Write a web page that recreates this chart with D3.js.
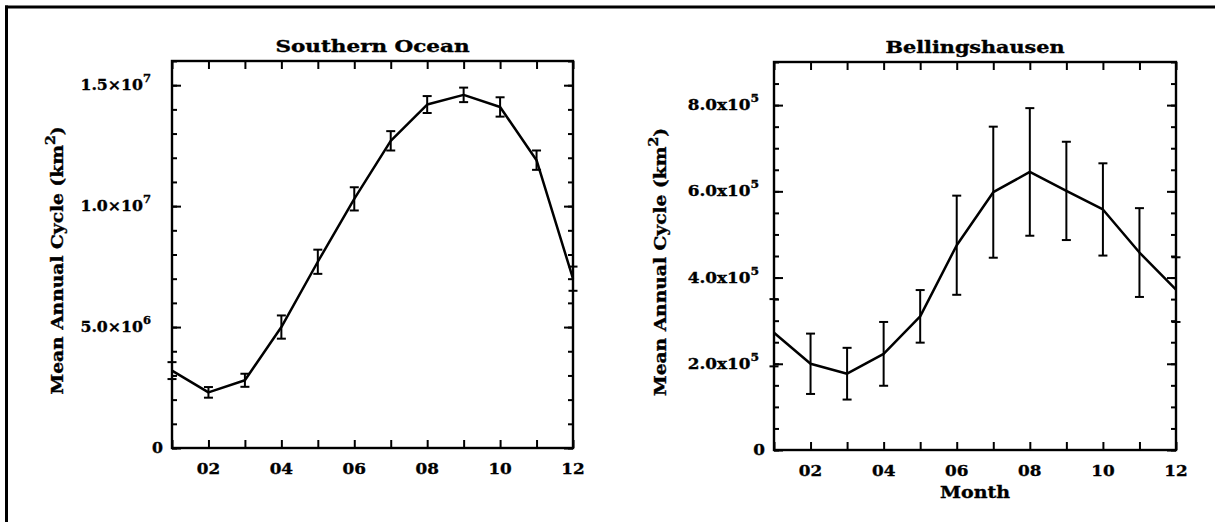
<!DOCTYPE html>
<html>
<head>
<meta charset="utf-8">
<script src="https://cdn.jsdelivr.net/npm/d3@7"></script>
<style>
body { margin: 0; background: #fff; }
svg text { font-family: "DejaVu Serif", serif; font-weight: bold; fill: #000; stroke: #000; stroke-width: 0.35px; }
</style>
</head>
<body>
<svg id="chart"></svg>
<script>
// x axis
var months = [1, 2, 3, 4, 5, 6, 7, 8, 9, 10, 11, 12];
var monthTicks = [2, 4, 6, 8, 10, 12];
var monthLabels = ["02", "04", "06", "08", "10", "12"];

// Southern Ocean (km^2)
var soValues = [3.2e6, 2.3e6, 2.8e6, 5.0e6, 7.7e6, 10.3e6, 12.7e6, 14.2e6, 14.6e6, 14.1e6, 11.9e6, 7.0e6];
var soErrors = [0.35e6, 0.22e6, 0.27e6, 0.48e6, 0.5e6, 0.48e6, 0.4e6, 0.35e6, 0.3e6, 0.4e6, 0.4e6, 0.5e6];
var soTickValues = [0, 5e6, 1e7, 1.5e7];
var soTickMant = ["0", "5.0", "1.0", "1.5"];
var soTickExp = ["", "6", "7", "7"];

// Bellingshausen (km^2)
var beValues = [2.72e5, 2.0e5, 1.77e5, 2.23e5, 3.1e5, 4.75e5, 5.98e5, 6.45e5, 6.01e5, 5.58e5, 4.58e5, 3.72e5];
var beErrors = [0.78e5, 0.7e5, 0.6e5, 0.74e5, 0.61e5, 1.15e5, 1.52e5, 1.48e5, 1.14e5, 1.07e5, 1.03e5, 0.75e5];
var beTickValues = [0, 2e5, 4e5, 6e5, 8e5];
var beTickMant = ["0", "2.0", "4.0", "6.0", "8.0"];
var beTickExp = ["", "5", "5", "5", "5"];

var svg = d3.select("#chart")
    .attr("width", 1215)
    .attr("height", 522);

// place a text node so that it spans [x0, x0 + w], glyphs stretched to fit
// anchor: 0 = start, 0.5 = middle, 1 = end of the stretched text
function place(sel, xa, anchor, w, f) {
    sel.each(function() {
        var l = this.getComputedTextLength();
        var width = w || l * f;
        d3.select(this)
            .attr("text-anchor", "start")
            .attr("x", xa - anchor * width)
            .attr("textLength", width)
            .attr("lengthAdjust", "spacingAndGlyphs");
    });
}

// outer frame (top and left only)
svg.append("line").attr("x1", 5).attr("x2", 1215).attr("y1", 7).attr("y2", 7)
    .style("stroke", "#000").style("stroke-width", 3);
svg.append("line").attr("x1", 6.5).attr("x2", 6.5).attr("y1", 5.5).attr("y2", 522)
    .style("stroke", "#000").style("stroke-width", 3);

function drawPanel(p) {
    var x = d3.scaleLinear().domain([1, 12]).range([p.left, p.right]);
    var y = d3.scaleLinear().domain([0, p.yMax]).range([p.bottom, p.top]);
    var g = svg.append("g");

    var minor = d3.range(0, p.yMax + p.minorStep / 2, p.minorStep);

    // ticks, pointing inward
    g.append("g").attr("transform", "translate(0," + p.bottom + ")")
        .call(d3.axisBottom(x).tickValues(months).tickSize(-8).tickFormat(""));
    g.append("g").attr("transform", "translate(0," + p.top + ")")
        .call(d3.axisTop(x).tickValues(months).tickSize(-8).tickFormat(""));
    g.append("g").attr("transform", "translate(" + p.left + ",0)")
        .call(d3.axisLeft(y).tickValues(minor).tickSize(-5).tickFormat(""));
    g.append("g").attr("transform", "translate(" + p.right + ",0)")
        .call(d3.axisRight(y).tickValues(minor).tickSize(-5).tickFormat(""));
    g.append("g").attr("transform", "translate(" + p.left + ",0)")
        .call(d3.axisLeft(y).tickValues(p.tickValues).tickSize(-9).tickFormat(""));
    g.append("g").attr("transform", "translate(" + p.right + ",0)")
        .call(d3.axisRight(y).tickValues(p.tickValues).tickSize(-9).tickFormat(""));
    g.selectAll(".domain").remove();
    g.selectAll(".tick line").style("stroke", "#000").style("stroke-width", 2);

    // plot box
    g.append("rect")
        .attr("x", p.left).attr("y", p.top)
        .attr("width", p.right - p.left).attr("height", p.bottom - p.top)
        .style("fill", "none").style("stroke", "#000").style("stroke-width", 2.4);

    // x tick labels
    monthTicks.forEach(function(m, i) {
        g.append("text")
            .attr("y", p.bottom + 26)
            .style("font-size", "15px")
            .text(monthLabels[i])
            .call(place, x(m), 0.5, 0, 1.12);
    });

    // y tick labels with exponents
    p.tickValues.forEach(function(v, i) {
        var t = g.append("text")
            .attr("y", y(v) + 5)
            .style("font-size", "15px");
        if (p.exp[i] === "") {
            t.text(p.mant[i]);
        } else {
            t.append("tspan").text(p.mant[i] + p.sep + "10");
            t.append("tspan").attr("dy", -8).style("font-size", "11px").text(p.exp[i]);
        }
        t.call(place, i === 0 ? p.zeroX : p.labelX, 1, 0, p.labelStretch);
    });

    // title
    g.append("text")
        .attr("y", p.top - 9)
        .style("font-size", "16px")
        .text(p.title)
        .call(place, (p.left + p.right) / 2, 0.5, p.titleWidth);

    // y axis title
    var yt = g.append("text")
        .attr("transform", "translate(" + p.yTitleX + "," + ((p.top + p.bottom) / 2 + 6) + ")rotate(-90)")
        .style("font-size", "16px");
    yt.append("tspan").text("Mean Annual Cycle (km");
    yt.append("tspan").attr("dy", -8).style("font-size", "12px").text("2");
    yt.append("tspan").attr("dy", 8).text(")");
    yt.call(place, 0, 0.5, 268);

    if (p.xTitle) {
        g.append("text")
            .attr("y", p.bottom + 48)
            .style("font-size", "17px")
            .text(p.xTitle)
            .call(place, (p.left + p.right) / 2, 0.5, 70);
    }

    // error bars
    var eb = g.selectAll(".eb").data(months).enter().append("g").attr("class", "eb");
    eb.append("line")
        .attr("x1", function(d) { return x(d); })
        .attr("x2", function(d) { return x(d); })
        .attr("y1", function(d, i) { return y(p.values[i] + p.errors[i]); })
        .attr("y2", function(d, i) { return y(p.values[i] - p.errors[i]); });
    eb.append("line")
        .attr("x1", function(d) { return x(d) - 4.5; })
        .attr("x2", function(d) { return x(d) + 4.5; })
        .attr("y1", function(d, i) { return y(p.values[i] + p.errors[i]); })
        .attr("y2", function(d, i) { return y(p.values[i] + p.errors[i]); });
    eb.append("line")
        .attr("x1", function(d) { return x(d) - 4.5; })
        .attr("x2", function(d) { return x(d) + 4.5; })
        .attr("y1", function(d, i) { return y(p.values[i] - p.errors[i]); })
        .attr("y2", function(d, i) { return y(p.values[i] - p.errors[i]); });
    eb.selectAll("line").style("stroke", "#000").style("stroke-width", 2);

    // mean annual cycle
    var line = d3.line()
        .x(function(d) { return x(d); })
        .y(function(d, i) { return y(p.values[i]); });
    g.append("path")
        .datum(months)
        .attr("d", line)
        .style("fill", "none")
        .style("stroke", "#000")
        .style("stroke-width", 2.5)
        .style("stroke-linejoin", "round");
}

drawPanel({
    left: 172, right: 573, top: 61, bottom: 448,
    yMax: 1.6e7, minorStep: 1e6,
    values: soValues, errors: soErrors,
    tickValues: soTickValues, mant: soTickMant, exp: soTickExp, sep: "\u00d7",
    labelX: 151, zeroX: 163, labelStretch: 1.05,
    title: "Southern Ocean", titleWidth: 194,
    yTitleX: 63
});

drawPanel({
    left: 774, right: 1176, top: 62, bottom: 450,
    yMax: 9e5, minorStep: 5e4,
    values: beValues, errors: beErrors,
    tickValues: beTickValues, mant: beTickMant, exp: beTickExp, sep: "x",
    labelX: 759, zeroX: 765, labelStretch: 1.12,
    title: "Bellingshausen", titleWidth: 179,
    xTitle: "Month",
    yTitleX: 666
});
</script>
</body>
</html>
